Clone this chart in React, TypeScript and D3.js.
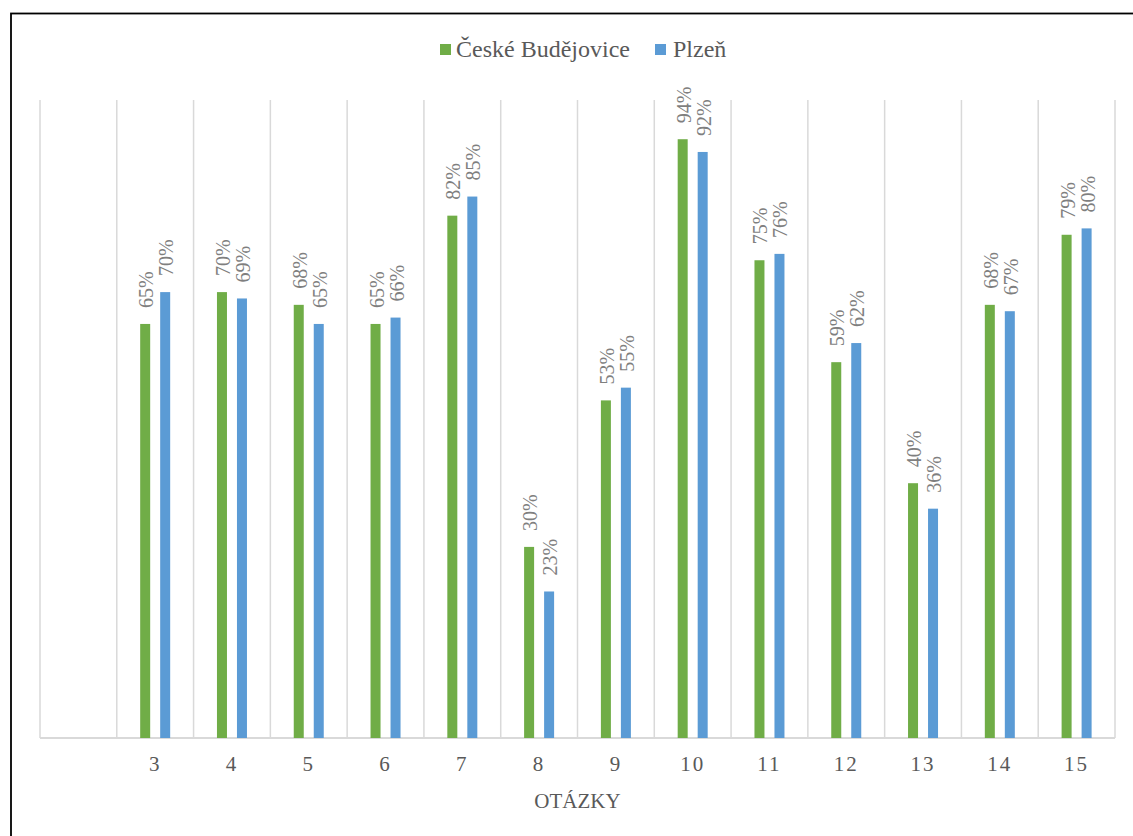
import React from "react";
import * as d3 from "d3";

const categories = ["", "3", "4", "5", "6", "7", "8", "9", "10", "11", "12", "13", "14", "15"];
const budejovice = [null, 0.65, 0.7, 0.68, 0.65, 0.82, 0.3, 0.53, 0.94, 0.75, 0.59, 0.4, 0.68, 0.79];
const plzen = [null, 0.7, 0.69, 0.65, 0.66, 0.85, 0.23, 0.55, 0.92, 0.76, 0.62, 0.36, 0.67, 0.8];
const seriesNames = ["České Budějovice", "Plzeň"];
const seriesColors = ["#70ad47", "#5b9bd5"];
const axisTitle = "OTÁZKY";

const W = 1133;
const H = 836;
const plot = { left: 40, right: 1115, top: 101, bottom: 738 };
const FONT = "Liberation Serif, Times New Roman, Tinos, DejaVu Serif, serif";

export default function App() {
  const x = d3.scaleBand<string>().domain(categories.map((c, i) => `${i}`)).range([plot.left, plot.right]);
  const y = d3.scaleLinear().domain([0, 1]).range([plot.bottom, plot.top]);
  const barW = 10;
  const offsets = [-10, 10];
  const series = [budejovice, plzen];
  const pct = d3.format(".0%");

  const gridXs = d3.range(categories.length + 1).map((i) => plot.left + i * x.bandwidth());

  return (
    <div style={{ position: "absolute", left: 0, top: 0 }}>
      <svg width={W} height={H} style={{ display: "block", background: "#fff", fontFamily: FONT }}>
        <rect x={11} y={13.5} width={W + 20} height={H + 20} fill="#fff" stroke="#000" strokeWidth={1.8} />
        {gridXs.map((gx, i) => (
          <line key={i} x1={gx} x2={gx} y1={plot.top - 1} y2={plot.bottom} stroke="#d9d9d9" strokeWidth={1.5} />
        ))}
        <line x1={plot.left} x2={plot.right} y1={plot.bottom} y2={plot.bottom} stroke="#d9d9d9" strokeWidth={1.8} />
        {series.map((vals, s) =>
          vals.map((v, i) => {
            if (v == null) return null;
            const cx = (x(`${i}`) as number) + x.bandwidth() / 2 + offsets[s];
            return (
              <g key={`${s}-${i}`}>
                <rect x={cx - barW / 2} y={y(v)} width={barW} height={plot.bottom - y(v)} fill={seriesColors[s]} />
                <text
                  transform={`translate(${cx + 8},${y(v) - 16}) rotate(-90)`}
                  style={{ fontFamily: FONT }}
                  fontSize={20}
                  fill="#7f7f7f"
                >
                  {pct(v)}
                </text>
              </g>
            );
          })
        )}
        {categories.map((c, i) => (
          <text
            key={i}
            x={(x(`${i}`) as number) + x.bandwidth() / 2}
            y={771}
            textAnchor="middle"
            style={{ fontFamily: FONT }}
            fontSize={21}
            letterSpacing={2}
            fill="#595959"
          >
            {c}
          </text>
        ))}
        <text x={(plot.left + plot.right) / 2} y={808} textAnchor="middle" style={{ fontFamily: FONT }} fontSize={21} fill="#595959">
          {axisTitle}
        </text>
        <g>
          <rect x={440} y={44} width={11} height={11} fill={seriesColors[0]} />
          <text x={456} y={57} style={{ fontFamily: FONT }} fontSize={24} fill="#595959">{seriesNames[0]}</text>
          <rect x={655} y={44} width={11} height={11} fill={seriesColors[1]} />
          <text x={673} y={57} style={{ fontFamily: FONT }} fontSize={24} fill="#595959">{seriesNames[1]}</text>
        </g>
      </svg>
    </div>
  );
}
